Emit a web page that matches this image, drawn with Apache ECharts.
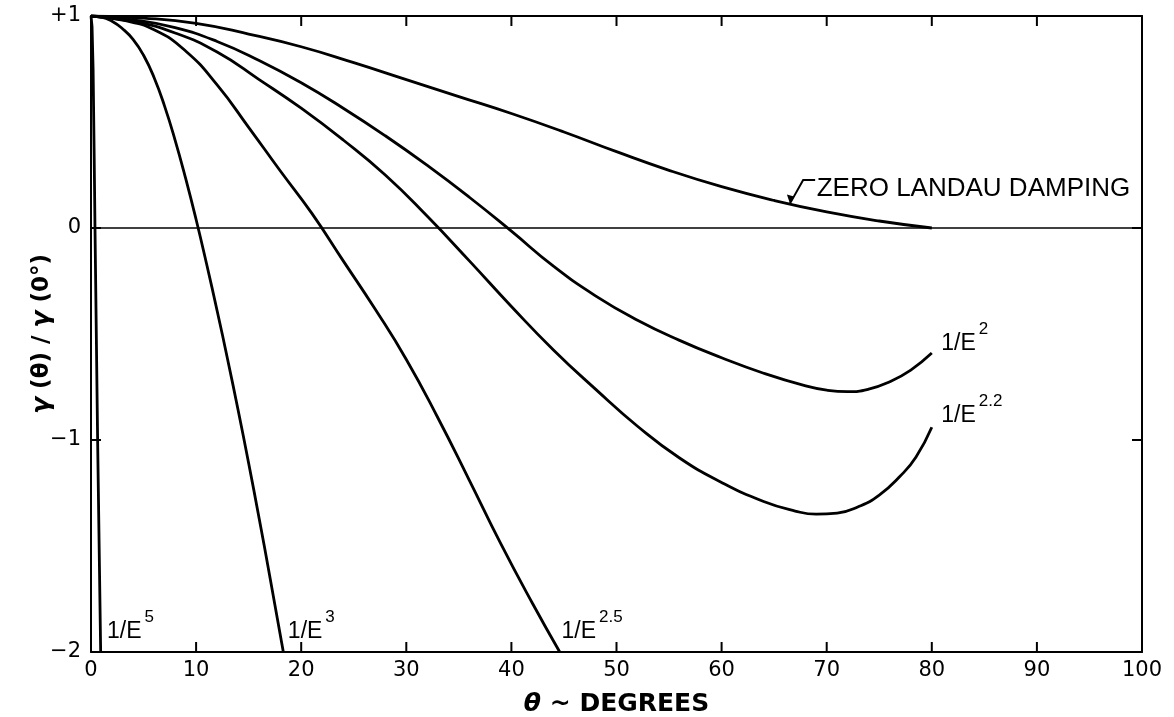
<!DOCTYPE html>
<html>
<head>
<meta charset="utf-8">
<script src="https://cdn.jsdelivr.net/npm/echarts/dist/echarts.min.js"></script>
<style>
  html, body { margin: 0; padding: 0; background: #fff; }
  #chart { width: 1174px; height: 717px; }
</style>
</head>
<body>
<div id="chart"></div>
<script>
  // theta (degrees) vs gamma(theta)/gamma(0)
  const xTicks = [0, 10, 20, 30, 40, 50, 60, 70, 80, 90, 100]
  const yTicks = [1, 0, -1, -2]

  const zeroLandau = [[0, 1], [5, 0.99], [10, 0.965], [15, 0.915], [20, 0.855], [25, 0.78],
    [30, 0.7], [35, 0.62], [40, 0.54], [45, 0.453], [50, 0.36], [55, 0.272], [60, 0.195],
    [65, 0.13], [70, 0.076], [75, 0.033], [80, 0]]
  const invE2 = [[0, 1], [4, 0.982], [8, 0.945], [12, 0.88], [16, 0.79], [20, 0.685],
    [24, 0.565], [28, 0.435], [32, 0.295], [36, 0.145], [40, -0.015], [44, -0.18],
    [48, -0.32], [52, -0.435], [56, -0.53], [60, -0.612], [64, -0.685], [68, -0.745],
    [70, -0.765], [72, -0.772], [74, -0.76], [76, -0.725], [78, -0.67], [80, -0.59]]
  const invE22 = [[0, 1], [4, 0.975], [8, 0.92], [12, 0.83], [16, 0.7], [20, 0.565],
    [24, 0.415], [28, 0.25], [32, 0.055], [36, -0.155], [40, -0.37], [44, -0.575],
    [48, -0.76], [52, -0.935], [56, -1.085], [60, -1.2], [64, -1.29], [67, -1.335],
    [69, -1.35], [71, -1.345], [73, -1.315], [75, -1.26], [77, -1.17], [78.5, -1.08], [80, -0.94]]
  const invE25 = [[0, 1], [3, 0.98], [6, 0.935], [9, 0.835], [12, 0.675], [15, 0.475],
    [18, 0.27], [21, 0.07], [24, -0.155], [27, -0.38], [30, -0.62], [33, -0.895],
    [36, -1.19], [39, -1.49], [42, -1.77], [44.6, -2]]
  const invE3 = [[0, 1], [1, 0.995], [2, 0.975], [3, 0.94], [4, 0.89], [5, 0.815], [6, 0.71],
    [7, 0.575], [8, 0.415], [9, 0.235], [10, 0.04], [11, -0.17], [12, -0.39], [13, -0.62],
    [14, -0.86], [15, -1.11], [16, -1.37], [17, -1.64], [18.3, -2]]
  const invE5 = [[0, 1], [0.1, 0.95], [0.2, 0.75], [0.3, 0.35], [0.38, 0], [0.63, -1], [0.92, -2]]
  const zeroLine = [[0, 0], [100, 0]]

  const FONT = 'Liberation Sans'
  const WIDE = 'DejaVu Sans'

  const X_MIN = xTicks[0]
  const X_MAX = xTicks[xTicks.length - 1]
  const Y_MIN = yTicks[yTicks.length - 1]
  const Y_MAX = yTicks[0]
  const TICK = 10

  let chart = echarts.init(document.getElementById('chart'))

  function curve(name, data, smooth) {
    return {
      name: name,
      type: 'line',
      data: data,
      smooth: smooth,
      showSymbol: false,
      silent: true,
      lineStyle: { color: '#000', width: 2.8 },
    }
  }

  function yLabel(v) {
    if (v === 1) return '+1'
    if (v < 0) return '\u2212' + Math.abs(v)
    return String(v)
  }

  function frameLine() {
    return { show: true, onZero: false, lineStyle: { color: '#000', width: 2 } }
  }

  chart.setOption({
    animation: false,
    backgroundColor: '#fff',
    grid: { left: 91, right: 32, top: 16, bottom: 65, outerBoundsMode: 'none', containLabel: false },
    xAxis: [
      {
        type: 'value',
        min: X_MIN,
        max: X_MAX,
        interval: 10,
        name: '{t|\u03b8} ~ DEGREES',
        nameLocation: 'middle',
        nameGap: 40,
        nameMoveOverlap: false,
        nameTextStyle: {
          color: '#000', fontSize: 25, fontWeight: 'bold', fontFamily: WIDE,
          rich: { t: { fontSize: 25, fontStyle: 'italic', fontWeight: 'bold', fontFamily: WIDE } },
        },
        axisLine: frameLine(),
        axisTick: { show: false },
        axisLabel: { color: '#000', fontSize: 21, fontFamily: WIDE, margin: 8 },
        splitLine: { show: false },
      },
      {
        type: 'value',
        position: 'top',
        min: X_MIN,
        max: X_MAX,
        interval: 10,
        axisLine: frameLine(),
        axisTick: { show: false },
        axisLabel: { show: false },
        splitLine: { show: false },
      },
    ],
    yAxis: [
      {
        type: 'value',
        min: Y_MIN,
        max: Y_MAX,
        interval: 1,
        name: '{g|\u03b3} (\u03b8) / {g|\u03b3} (0\u00b0)',
        nameLocation: 'middle',
        nameGap: 36,
        nameMoveOverlap: false,
        nameTextStyle: {
          color: '#000', fontSize: 23, fontWeight: 'bold', fontFamily: WIDE,
          rich: { g: { fontSize: 25, fontStyle: 'italic', fontWeight: 'bold', fontFamily: WIDE } },
        },
        axisLine: frameLine(),
        axisTick: { show: false },
        axisLabel: { color: '#000', fontSize: 21, fontFamily: WIDE, margin: 10, formatter: yLabel },
        splitLine: { show: false },
      },
      {
        type: 'value',
        position: 'right',
        min: Y_MIN,
        max: Y_MAX,
        interval: 1,
        axisLine: frameLine(),
        axisTick: { show: false },
        axisLabel: { show: false },
        splitLine: { show: false },
      },
    ],
    series: [
      {
        name: 'zero',
        type: 'line',
        data: zeroLine,
        showSymbol: false,
        silent: true,
        lineStyle: { color: '#000', width: 1.6 },
      },
      curve('ZERO LANDAU DAMPING', zeroLandau, 0.5),
      curve('1/E^2', invE2, 0.5),
      curve('1/E^2.2', invE22, 0.5),
      curve('1/E^2.5', invE25, 0.5),
      curve('1/E^3', invE3, 0.5),
      curve('1/E^5', invE5, false),
    ],
  })

  // annotations and inward frame ticks, placed through the grid's scales
  function px(x, y) {
    return chart.convertToPixel({ gridIndex: 0 }, [x, y])
  }

  function block(x, y, w, h) {
    return { type: 'rect', shape: { x: x, y: y, width: w, height: h }, style: { fill: '#000' }, z: 10 }
  }

  let ticks = []
  xTicks.slice(1, -1).forEach(v => {
    let b = px(v, Y_MIN)
    let t = px(v, Y_MAX)
    ticks.push(block(b[0] - 1, b[1] - TICK, 2, TICK))
    ticks.push(block(t[0] - 1, t[1], 2, TICK))
  })
  yTicks.slice(1, -1).forEach(v => {
    let l = px(X_MIN, v)
    let r = px(X_MAX, v)
    ticks.push(block(l[0], l[1] - 1, TICK, 2))
    ticks.push(block(r[0] - TICK, r[1] - 1, TICK, 2))
  })

  const rich = {
    b: { fontSize: 23, fontFamily: FONT, fill: '#000', padding: [11, 0, 0, 0] },
    s: { fontSize: 17, fontFamily: FONT, fill: '#000', verticalAlign: 'top', padding: [0, 0, 0, 3] },
  }

  function curveLabel(sup, x, y) {
    let p = px(x, y)
    return {
      type: 'text',
      x: p[0],
      y: p[1],
      style: { text: '{b|1/E}{s|' + sup + '}', rich: rich, align: 'left', verticalAlign: 'bottom' },
    }
  }

  let z0 = px(68.9, 0.226)
  let z1 = px(67.76, 0.226)
  let z2 = px(66.5, 0.115)
  let zt = px(69.05, 0.123)

  chart.setOption({
    graphic: ticks.concat([
      curveLabel('5', 1.52, -1.958),
      curveLabel('3', 18.73, -1.958),
      curveLabel('2.5', 44.77, -1.958),
      curveLabel('2', 80.9, -0.6),
      curveLabel('2.2', 80.9, -0.94),
      {
        type: 'text',
        x: zt[0],
        y: zt[1],
        style: {
          text: 'ZERO LANDAU DAMPING', fill: '#000', fontSize: 26, fontFamily: FONT,
          align: 'left', verticalAlign: 'bottom',
        },
      },
      {
        type: 'polyline',
        shape: { points: [z0, z1, z2] },
        style: { stroke: '#000', lineWidth: 2, fill: null },
      },
      {
        type: 'polygon',
        shape: { points: [[z2[0] - 3, z2[1] - 9], [z2[0] + 4, z2[1] - 7], z2] },
        style: { fill: '#000' },
      },
    ]),
  })
</script>
</body>
</html>
